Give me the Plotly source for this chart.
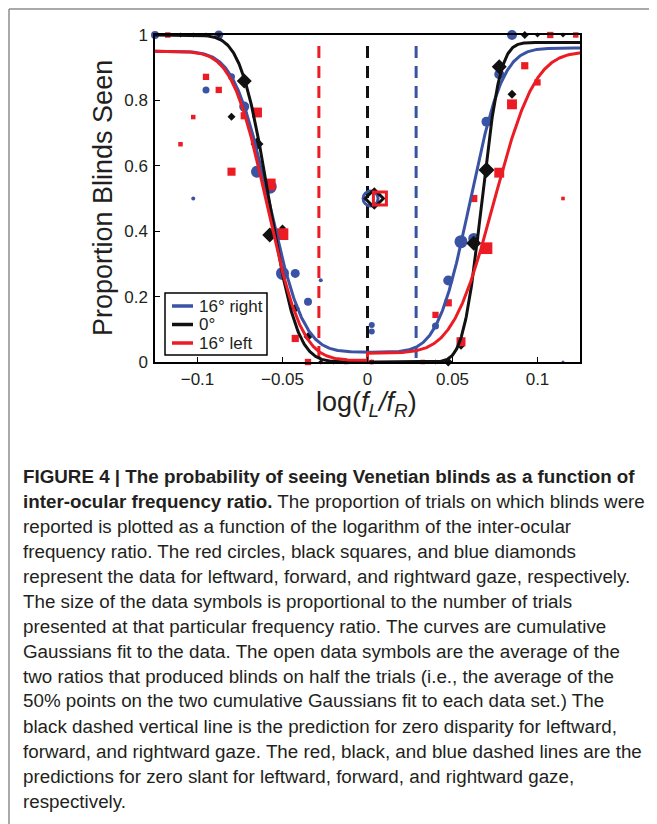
import math
import numpy as np
import plotly.graph_objects as go

# ---------------- data ----------------
blue_x = [-0.125, -0.095, -0.0875, -0.08, -0.1025, -0.0725, -0.065, -0.0575, -0.05, -0.0425,
          -0.035, -0.0275, 0.0025, 0.0025, 0.025, 0.04, 0.0475, 0.055, 0.0625, 0.07, 0.0775,
          0.085, 0.115]
blue_y = [1.0, 0.832, 1.0, 0.872, 0.5, 0.781, 0.582, 0.536, 0.271, 0.271,
          0.184, 0.25, 0.113, 0.093, 0.0, 0.110, 0.249, 0.368, 0.378, 0.735, 0.880,
          1.0, 0.0]
blue_size = [8, 7, 9, 7, 4, 10, 12, 14, 13, 9,
             8, 4, 6, 6, 3, 7, 10, 13, 11, 10, 10,
             10, 3]

black_x = [-0.11, -0.1025, -0.095, -0.0875, -0.0725, -0.08, -0.065, -0.0575, -0.05, -0.0425,
           -0.035, -0.0275, -0.02, 0.0025, 0.0325, 0.04, 0.0475, 0.055, 0.0625, 0.07, 0.0775,
           0.085, 0.0925, 0.1, 0.115, 0.1225]
black_y = [1.0, 1.0, 1.0, 1.0, 0.859, 0.75, 0.667, 0.388, 0.41, 0.164,
           0.077, 0.0, 0.0, 0.0, 0.0, 0.0, 0.0, 0.05, 0.363, 0.587, 0.903,
           0.819, 1.0, 1.0, 1.0, 1.0]
black_size = [5, 5, 5, 5, 15, 8, 13, 15, 7, 9,
              9, 5, 5, 5, 4, 5, 9, 8, 15, 16, 15,
              9, 8, 5, 5, 4]

red_x = [-0.1175, -0.11, -0.1025, -0.095, -0.0875, -0.08, -0.0725, -0.065, -0.0575, -0.05,
         -0.0425, -0.035, -0.0125, 0.0025, 0.0325, 0.04, 0.0475, 0.055, 0.0625, 0.07,
         0.0775, 0.085, 0.0925, 0.1, 0.1075, 0.115, 0.1225]
red_y = [1.0, 0.666, 0.749, 0.872, 0.832, 0.582, 0.753, 0.763, 0.543, 0.391,
         0.072, 0.0, 0.0, 0.0, 0.0, 0.144, 0.181, 0.062, 0.5, 0.348,
         0.579, 0.788, 0.906, 0.855, 1.0, 0.5, 1.0]
red_size = [6, 5, 5, 7, 7, 9, 8, 11, 13, 13,
            8, 7, 5, 5, 5, 7, 8, 10, 8, 13,
            11, 11, 8, 7, 7, 4, 6]

# open symbols: averages of the two 50% points
avg_x = {"blue": 0.0018, "black": 0.004, "red": 0.0073}
avg_y = 0.5

# cumulative-Gaussian fit parameters
# (left branch: upper, lower, mean, sd ; right branch: lower, upper, mean, sd)
fit_left = {"blue": (0.95, 0.03, -0.058, 0.016),
            "black": (1.0, 0.0, -0.058, 0.013),
            "red": (0.95, 0.005, -0.059, 0.016)}
fit_right = {"blue": (0.03, 0.96, 0.0605, 0.015),
             "black": (0.0, 0.977, 0.0672, 0.0085),
             "red": (0.027, 0.949, 0.0743, 0.019)}

# zero-slant predictions (dashed verticals)
pred_x = {"red": -0.0286, "black": 0.0, "blue": 0.0286}
pred_top = 0.966

legend_names = {"blue": "16° right", "black": "0°", "red": "16° left"}
x_ticks = [-0.1, -0.05, 0, 0.05, 0.1]
x_tick_text = ["\u22120.1", "\u22120.05", "0", "0.05", "0.1"]
y_ticks = [0, 0.2, 0.4, 0.6, 0.8, 1]
y_tick_text = ["0", "0.2", "0.4", "0.6", "0.8", "1"]

caption = [
    "<b>FIGURE 4 | The probability of seeing Venetian blinds as a function of</b>",
    "<b>inter-ocular frequency ratio.</b> The proportion of trials on which blinds were",
    "reported is plotted as a function of the logarithm of the inter-ocular",
    "frequency ratio. The red circles, black squares, and blue diamonds",
    "represent the data for leftward, forward, and rightward gaze, respectively.",
    "The size of the data symbols is proportional to the number of trials",
    "presented at that particular frequency ratio. The curves are cumulative",
    "Gaussians fit to the data. The open data symbols are the average of the",
    "two ratios that produced blinds on half the trials (i.e., the average of the",
    "50% points on the two cumulative Gaussians fit to each data set.) The",
    "black dashed vertical line is the prediction for zero disparity for leftward,",
    "forward, and rightward gaze. The red, black, and blue dashed lines are the",
    "predictions for zero slant for leftward, forward, and rightward gaze,",
    "respectively.",
]

# ---------------- styling ----------------
COL = {"blue": "#3a53a4", "black": "#111111", "red": "#ec1c24"}
TXT = "#231f20"
FONT = "Liberation Sans, Arial, sans-serif"

# the page body has an 8 px margin: figure is 8 px smaller and everything is
# positioned in reference-picture pixels through the helpers below
OFF = 8
W, H = 657 - OFF, 824 - OFF
L, T = 155 - OFF, 35 - OFF
R = W - (580 - OFF)
B = H - (362 - OFF)
PW, PH = W - L - R, H - T - B


def px2paper_x(px):
    return (px - OFF - L) / PW


def py2paper_y(py):
    return (H - B - (py - OFF)) / PH


def phi(z):
    return 0.5 * (1.0 + math.erf(z / math.sqrt(2.0)))


fig = go.Figure()

# data markers
sym = {"blue": "circle", "black": "diamond", "red": "square"}
scale = {"blue": 1.0, "black": 1.0 / 1.3, "red": 0.9}
series = {"blue": (blue_x, blue_y, blue_size),
          "black": (black_x, black_y, black_size),
          "red": (red_x, red_y, red_size)}
for c in ["blue", "black", "red"]:
    xs, ys, ss = series[c]
    fig.add_trace(go.Scatter(
        x=xs, y=ys, mode="markers", showlegend=False, cliponaxis=False,
        marker=dict(symbol=sym[c], color=COL[c], opacity=1,
                    size=[s * scale[c] for s in ss], line=dict(width=0))))

# dashed prediction lines
for c in ["red", "black", "blue"]:
    fig.add_trace(go.Scatter(
        x=[pred_x[c], pred_x[c]], y=[pred_top, 0], mode="lines", showlegend=False,
        line=dict(color=COL[c], width=3, dash="12px,8px")))

# fitted curves
xl = np.linspace(-0.125, 0.0, 300)
xr = np.linspace(0.0, 0.125, 300)
for c in ["blue", "black", "red"]:
    hi, lo, mu, sd = fit_left[c]
    yl = [lo + (hi - lo) * (1 - phi((v - mu) / sd)) for v in xl]
    lo2, hi2, mu2, sd2 = fit_right[c]
    yr = [lo2 + (hi2 - lo2) * phi((v - mu2) / sd2) for v in xr]
    fig.add_trace(go.Scatter(
        x=list(xl) + list(xr), y=yl + yr, mode="lines", name=legend_names[c],
        showlegend=False, line=dict(color=COL[c], width=3)))

# open average symbols
osym = {"blue": "circle-open", "black": "diamond-open", "red": "square-open"}
osize = {"blue": 15, "black": 14, "red": 13}
for c in ["blue", "black", "red"]:
    fig.add_trace(go.Scatter(
        x=[avg_x[c]], y=[avg_y], mode="markers", showlegend=False, cliponaxis=False,
        marker=dict(symbol=osym[c], size=osize[c], color=COL[c], opacity=1,
                    line=dict(width=3, color=COL[c]))))

annotations = []
shapes = []

# axis titles
annotations.append(dict(
    text="log(<i>f</i><sub><i>L</i></sub><i>/f</i><sub><i>R</i></sub>)",
    xref="paper", yref="paper",
    x=px2paper_x(366), y=py2paper_y(404), xanchor="center", yanchor="middle",
    showarrow=False, font=dict(family=FONT, size=27, color=TXT)))
annotations.append(dict(
    text="Proportion Blinds Seen", xref="paper", yref="paper", textangle=-90,
    x=px2paper_x(103), y=py2paper_y(198), xanchor="center", yanchor="middle",
    showarrow=False, font=dict(family=FONT, size=27, color=TXT)))

# legend (drawn box, line samples and labels)
shapes.append(dict(type="rect", xref="paper", yref="paper",
                   x0=px2paper_x(165), x1=px2paper_x(267), y0=py2paper_y(355), y1=py2paper_y(293),
                   line=dict(color="black", width=1.5), fillcolor="white", layer="above"))
for c, ry in zip(["blue", "black", "red"], [306, 324.5, 343]):
    shapes.append(dict(type="line", xref="paper", yref="paper",
                       x0=px2paper_x(172), x1=px2paper_x(193), y0=py2paper_y(ry), y1=py2paper_y(ry),
                       line=dict(color=COL[c], width=3.5), layer="above"))
    annotations.append(dict(
        text=legend_names[c], xref="paper", yref="paper", x=px2paper_x(197), y=py2paper_y(ry),
        xanchor="left", yanchor="middle", showarrow=False,
        font=dict(family=FONT, size=17, color=TXT)))

# caption
for i, line in enumerate(caption):
    annotations.append(dict(
        text=line, xref="paper", yref="paper", x=px2paper_x(21), y=py2paper_y(476 + 25 * i),
        xanchor="left", yanchor="middle", showarrow=False,
        font=dict(family=FONT, size=18.8, color=TXT)))

# figure frame (grey lines at top and left)
shapes.append(dict(type="line", xref="paper", yref="paper", x0=px2paper_x(9), x1=px2paper_x(700),
                   y0=py2paper_y(9), y1=py2paper_y(9), line=dict(color="#8c8c8c", width=1.5)))
shapes.append(dict(type="line", xref="paper", yref="paper", x0=px2paper_x(9), x1=px2paper_x(9),
                   y0=py2paper_y(9), y1=py2paper_y(900), line=dict(color="#8c8c8c", width=1.5)))

fig.update_layout(
    width=W, height=H, margin=dict(l=L, r=R, t=T, b=B, autoexpand=False),
    paper_bgcolor="white", plot_bgcolor="white",
    font=dict(family=FONT, size=17, color=TXT),
    annotations=annotations, shapes=shapes, showlegend=False,
    xaxis=dict(range=[-0.125, 0.125], tickvals=x_ticks, ticktext=x_tick_text,
               showgrid=False, zeroline=False, showline=True, linecolor="black", linewidth=1.5,
               mirror=True, ticks="inside", ticklen=5, tickcolor="black", ticklabelstandoff=1,
               tickfont=dict(size=17, family=FONT, color=TXT)),
    yaxis=dict(range=[0, 1], tickvals=y_ticks, ticktext=y_tick_text,
               showgrid=False, zeroline=False, showline=True, linecolor="black", linewidth=1.5,
               mirror=True, ticks="inside", ticklen=5, tickcolor="black", ticklabelstandoff=2,
               tickfont=dict(size=17, family=FONT, color=TXT)),
)

fig.write_html("out.html")
